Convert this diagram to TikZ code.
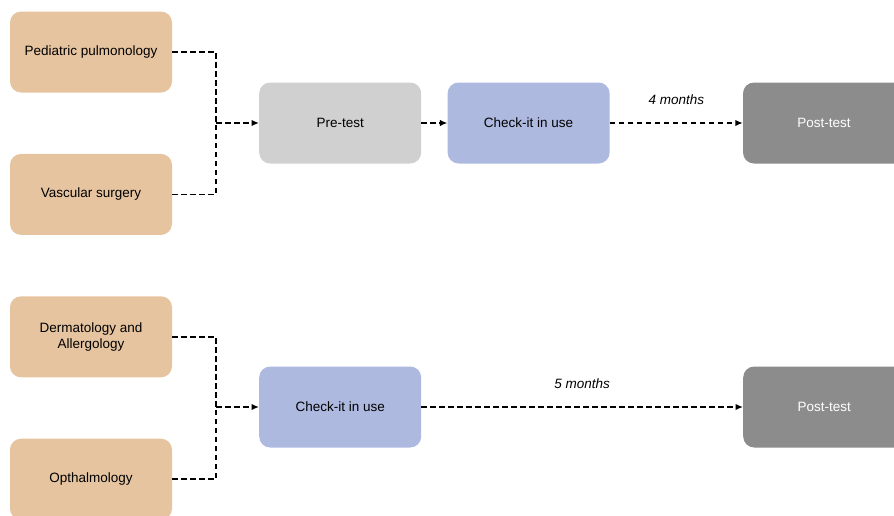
\documentclass[tikz,border=0pt]{standalone}
\usepackage{fontspec}
\setmainfont{Liberation Sans}
\usetikzlibrary{arrows.meta,positioning}
\definecolor{deptcol}{HTML}{E6C4A0}
\definecolor{pretestcol}{HTML}{D0D0D0}
\definecolor{usecol}{HTML}{AEB9E0}
\definecolor{postcol}{HTML}{8C8C8C}

\begin{document}
\begin{tikzpicture}[
      x=1pt, y=1pt,
      node distance=61pt and 87pt,
      box/.style={rectangle, rounded corners=11pt, minimum width=162pt, minimum height=81pt, inner sep=0pt, align=center, font=\fontsize{13.5}{16}\selectfont},
      dept/.style={box, fill=deptcol},
      pretest/.style={box, fill=pretestcol},
      inuse/.style={box, fill=usecol},
      posttest/.style={box, fill=postcol, text=white},
      link/.style={draw=black, line width=1.5pt, dash pattern=on 5.5pt off 3.5pt},
      arrow/.style={link, -{Latex[length=7.5pt,width=6.5pt]}},
      months/.style={font=\fontsize{13.5}{16}\selectfont\itshape}
  ]
  \useasboundingbox (0,0) rectangle (894,-515);
  \clip (0,0) rectangle (894,-515);

  % Departments
  \node (ped) [dept] at (91,-52) {Pediatric pulmonology};
  \node (vas) [dept, below=of ped] {Vascular surgery};
  \node (der) [dept, below=of vas] {Dermatology and\\Allergology};
  \node (oph) [dept, below=of der] {Opthalmology};

  % Junctions
  \coordinate (jn1) at (216,-123);
  \coordinate (jn2) at (216,-407);

  % Top flow
  \node (pre) [pretest, anchor=west] at (259,-123) {Pre-test};
  \node (use1) [inuse, right=26pt of pre] {Check-it in use};
  \node (post1) [posttest, right=133pt of use1] {Post-test};

  % Bottom flow
  \node (use2) [inuse, anchor=west] at (259,-407) {Check-it in use};
  \node (post2) [posttest, anchor=west] at (743,-407) {Post-test};

  % Connectors
  \draw [link] (ped) -| (jn1);
  \draw [link] (vas) -| (jn1);
  \draw [arrow] (jn1) -- (pre);
  \draw [arrow] (pre) -- (use1);
  \draw [arrow] (use1) -- node[months, above=14pt] (mon4) {4 months} (post1);

  \draw [link] (der) -| (jn2);
  \draw [link] (oph) -| (jn2);
  \draw [arrow] (jn2) -- (use2);
  \draw [arrow] (use2) -- node[months, above=14pt] (mon5) {5 months} (post2);

\end{tikzpicture}
\end{document}
